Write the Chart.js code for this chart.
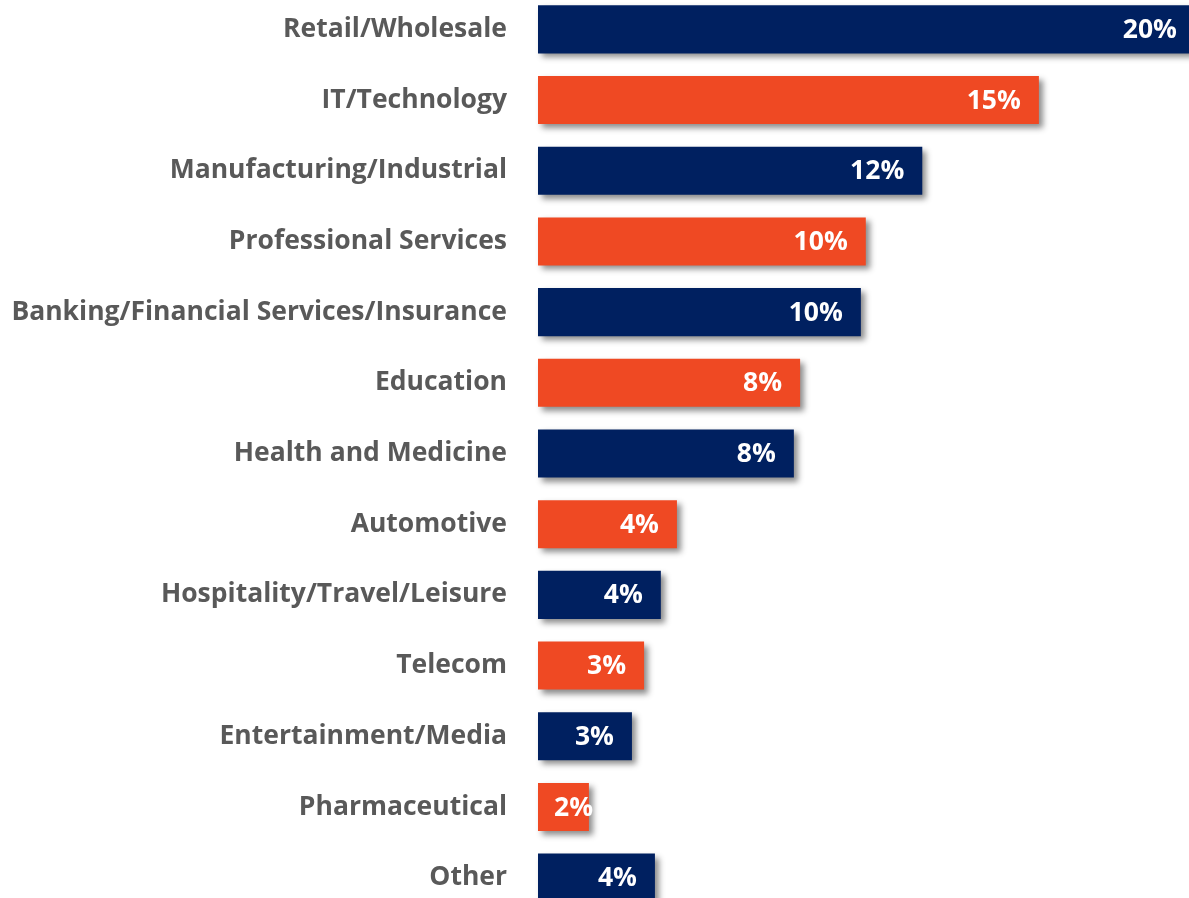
<!DOCTYPE html>
<html>
<head>
<meta charset="utf-8">
<title>Industry breakdown</title>
<script src="https://cdn.jsdelivr.net/npm/chart.js@4.4.1/dist/chart.umd.min.js"></script>
<style>
  html, body { margin: 0; padding: 0; background: #fff; overflow: hidden; }
  #wrap { position: absolute; left: 0; top: -6px; width: 1189px; height: 919px; }
</style>
</head>
<body>
<div id="wrap"><canvas id="chart"></canvas></div>
<script>
const categories = [
    'Retail/Wholesale',
    'IT/Technology',
    'Manufacturing/Industrial',
    'Professional Services',
    'Banking/Financial Services/Insurance',
    'Education',
    'Health and Medicine',
    'Automotive',
    'Hospitality/Travel/Leisure',
    'Telecom',
    'Entertainment/Media',
    'Pharmaceutical',
    'Other'
];
// share of respondents, percent
const shares = [20.0, 15.25, 11.7, 9.98, 9.83, 7.98, 7.79, 4.23, 3.74, 3.23, 2.86, 1.55, 3.56];

const NAVY = '#002060';
const ORANGE = '#EF4923';
const barColors = categories.map((c, i) => (i % 2 === 0 ? NAVY : ORANGE));

const FONT = '"Open Sans"';
const FONT_SIZE = 26.5;

// soft drop shadow behind the bars
const barShadow = {
    id: 'barShadow',
    beforeDatasetsDraw(chart) {
        const ctx = chart.ctx;
        ctx.save();
        ctx.shadowColor = 'rgba(0, 0, 0, 0.45)';
        ctx.shadowBlur = 6;
        ctx.shadowOffsetX = 4;
        ctx.shadowOffsetY = 4;
    },
    afterDatasetsDraw(chart) {
        chart.ctx.restore();
    }
};

// white percentage at the inner end of each bar
const valueLabels = {
    id: 'valueLabels',
    afterDatasetsDraw(chart) {
        const ctx = chart.ctx;
        const meta = chart.getDatasetMeta(0);
        ctx.save();
        ctx.font = 'bold ' + FONT_SIZE + 'px ' + FONT;
        ctx.fillStyle = '#ffffff';
        ctx.textAlign = 'right';
        ctx.textBaseline = 'middle';
        meta.data.forEach((bar, i) => {
            const text = Math.round(shares[i]) + '%';
            const w = ctx.measureText(text).width;
            const x = Math.max(bar.x - 18, bar.base + 16 + w);
            ctx.fillText(text, x, bar.y + 1);
        });
        ctx.restore();
    }
};

function drawChart() {
    const ctx = document.getElementById('chart').getContext('2d');
    new Chart(ctx, {
        type: 'bar',
        data: {
            labels: categories,
            datasets: [{
                data: shares,
                backgroundColor: barColors,
                borderWidth: 0,
                categoryPercentage: 1,
                barPercentage: 0.68,
                clip: false
            }]
        },
        options: {
            indexAxis: 'y',
            responsive: true,
            maintainAspectRatio: false,
            animation: false,
            layout: { padding: 0 },
            plugins: {
                legend: { display: false },
                tooltip: { enabled: false }
            },
            scales: {
                x: {
                    display: false,
                    min: 0,
                    max: 19.82
                },
                y: {
                    grid: { display: false, drawTicks: false },
                    border: { display: false },
                    ticks: {
                        padding: 31,
                        color: '#595959',
                        font: { family: 'Open Sans', weight: 'bold', size: FONT_SIZE }
                    },
                    afterFit(scale) {
                        // fixed label column; no extra room above/below the bars
                        scale.width = 538;
                        scale.paddingTop = 0;
                        scale.paddingBottom = 0;
                    }
                }
            }
        },
        plugins: [barShadow, valueLabels]
    });
}

document.fonts.load('bold ' + FONT_SIZE + 'px ' + FONT).then(drawChart, drawChart);
</script>
</body>
</html>
